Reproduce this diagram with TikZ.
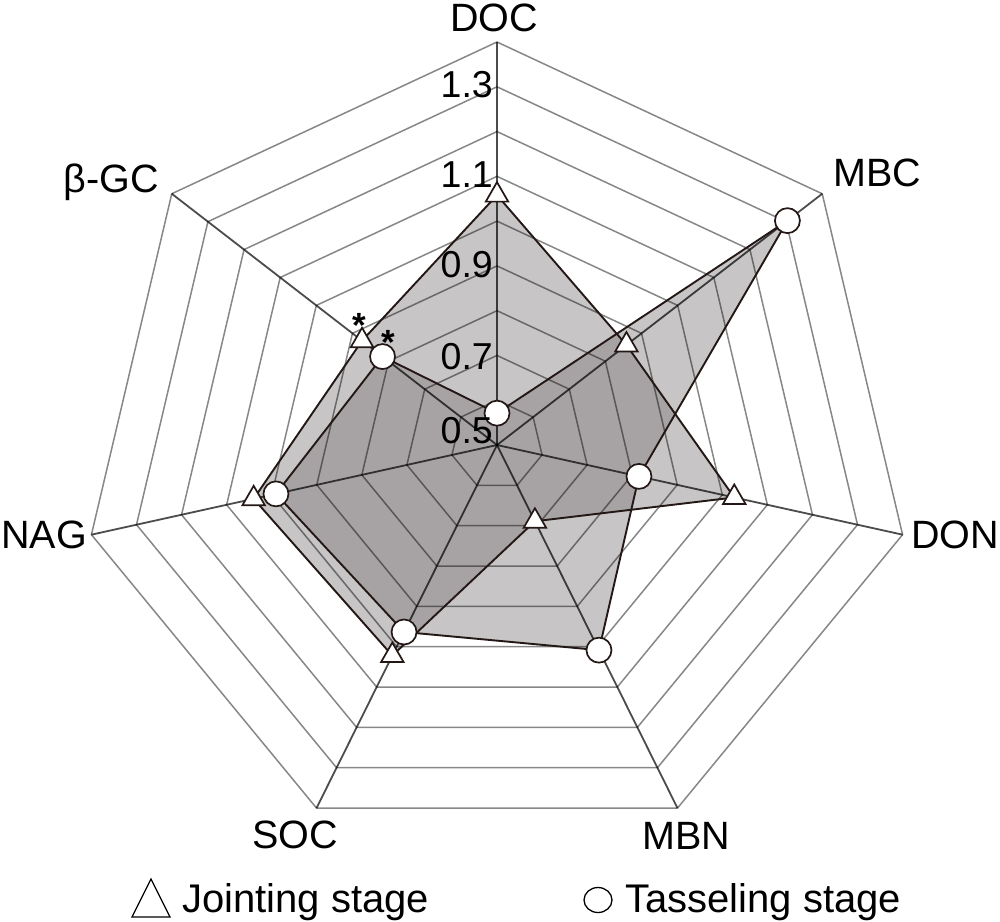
\documentclass[tikz,border=0pt]{standalone}
\usepackage{fontspec}
\setmainfont{Liberation Sans}
\usetikzlibrary{shapes.geometric}
\definecolor{fillc}{RGB}{123,117,121}
\definecolor{linec}{RGB}{35,24,21}
\begin{document}
\begin{tikzpicture}[x=1pt,y=-1pt,
  gridline/.style={black, draw opacity=0.47, line width=1.5pt, line join=miter},
  axisline/.style={black, draw opacity=0.7, line width=1.8pt},
  areafill/.style={fill=fillc, fill opacity=0.42},
  dataline/.style={draw=linec, line width=1.9pt, line join=round},
  jmark/.style={regular polygon, regular polygon sides=3, draw=linec, fill=white, line width=1.7pt, minimum size=26pt, inner sep=0pt},
  tmark/.style={circle, draw=linec, fill=white, line width=1.7pt, minimum size=25pt, inner sep=0pt},
  axlabel/.style={font=\fontsize{39.5}{40}\selectfont, inner sep=0pt},
  ticklabel/.style={font=\fontsize{37.5}{38}\selectfont, inner sep=0pt, anchor=base east},
  starlabel/.style={font=\bfseries\fontsize{35}{36}\selectfont, inner sep=0pt, anchor=north},
  legtext/.style={font=\fontsize{40}{41}\selectfont, inner sep=0pt, anchor=base west}
]
\useasboundingbox (0,0) rectangle (1000,921);
\fill[white] (0,0) rectangle (1000,921);

\begin{scope}[shift={(497,445)}, x=416pt, y=403pt]
  % data vertices
  \coordinate (J0) at (90:0.620);
  \coordinate (J1) at (38.571:0.398);
  \coordinate (J2) at (-12.857:0.585);
  \coordinate (J3) at (-64.286:0.210);
  \coordinate (J4) at (-115.714:0.580);
  \coordinate (J5) at (-167.143:0.600);
  \coordinate (J6) at (141.429:0.415);
  \coordinate (T0) at (90:0.079);
  \coordinate (T1) at (38.571:0.893);
  \coordinate (T2) at (-12.857:0.350);
  \coordinate (T3) at (-64.286:0.565);
  \coordinate (T4) at (-115.714:0.515);
  \coordinate (T5) at (-167.143:0.545);
  \coordinate (T6) at (141.429:0.352);
  % fills
  \fill[areafill] (J0) -- (J1) -- (J2) -- (J3) -- (J4) -- (J5) -- (J6) -- cycle;
  \fill[areafill] (T0) -- (T1) -- (T2) -- (T3) -- (T4) -- (T5) -- (T6) -- cycle;
  % grid rings
  \foreach \k in {1,...,9} {
    \draw[gridline] (90:\k/9) -- (38.571:\k/9) -- (-12.857:\k/9) -- (-64.286:\k/9)
      -- (-115.714:\k/9) -- (-167.143:\k/9) -- (141.429:\k/9) -- cycle;
  }
  % axes
  \coordinate (O) at (0,0);
  \coordinate (A0) at (90:1);
  \coordinate (A1) at (38.571:1);
  \coordinate (A2) at (-12.857:1);
  \coordinate (A3) at (-64.286:1);
  \coordinate (A4) at (-115.714:1);
  \coordinate (A5) at (-167.143:1);
  \coordinate (A6) at (141.429:1);
  \foreach \a in {A0,A1,A2,A3,A4,A5,A6} \draw[axisline] (O) -- (\a);
  % outlines
  \draw[dataline] (J0) -- (J1) -- (J2) -- (J3) -- (J4) -- (J5) -- (J6) -- cycle;
  \draw[dataline] (T0) -- (T1) -- (T2) -- (T3) -- (T4) -- (T5) -- (T6) -- cycle;
  % markers
  \foreach \i in {0,...,6} {
    \node[jmark] (jm\i) at (J\i) {};
    \node[tmark] (tm\i) at (T\i) {};
  }
\end{scope}

% tick labels
\node[ticklabel] (k13) at (493,97) {1.3};
\node[ticklabel] (k11) at (493,187) {1.1};
\node[ticklabel] (k09) at (493,277) {0.9};
\node[ticklabel] (k07) at (493,369) {0.7};
\node[ticklabel] (k05) at (493,443) {0.5};

% significance marks
\node[starlabel] (s1) at (359,313) {*};
\node[starlabel] (s2) at (388,330) {*};

% axis labels
\node[axlabel, anchor=base] (lDOC) at (494,31) {DOC};
\node[axlabel, anchor=base] (lMBC) at (877,186) {MBC};
\node[axlabel, anchor=base east] (lDON) at (999,548) {DON};
\node[axlabel, anchor=base] (lMBN) at (686,849) {MBN};
\node[axlabel, anchor=base] (lSOC) at (295,848) {SOC};
\node[axlabel, anchor=base west] (lNAG) at (1,548) {NAG};
\node[axlabel, anchor=base east] (lBGC) at (159,192) {β-GC};

% legend
\coordinate (LA) at (151,879);
\coordinate (LB) at (170,917);
\coordinate (LC) at (132,917);
\draw[line width=1.3pt, line join=miter] (LA) -- (LB) -- (LC) -- cycle;
\node[legtext] (legJ) at (182,912) {Jointing stage};
\node[draw, ellipse, line width=1.3pt, minimum width=28pt, minimum height=25pt, inner sep=0pt] (legTm) at (598,900) {};
\node[legtext] (legT) at (625,912) {Tasseling stage};
\end{tikzpicture}
\end{document}
